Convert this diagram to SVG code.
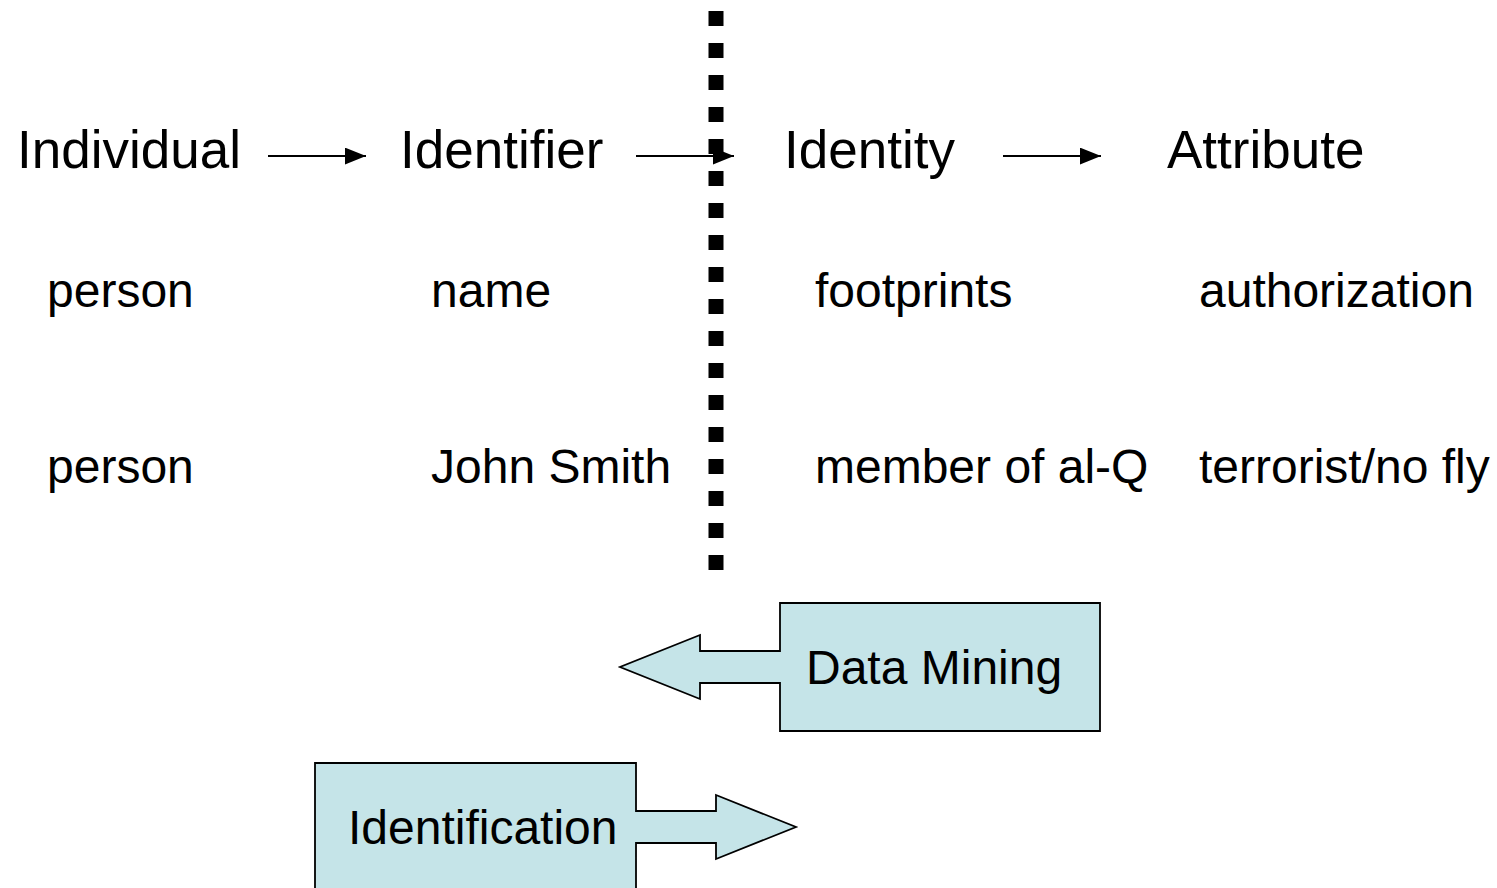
<svg xmlns="http://www.w3.org/2000/svg" width="1497" height="888" viewBox="0 0 1497 888">
<defs>
<style>
.big{font-family:"Liberation Sans",Arial,sans-serif;font-size:53px;fill:#000}
.sm{font-family:"Liberation Sans",Arial,sans-serif;font-size:48px;fill:#000}
.conn{stroke:#000;stroke-width:2;fill:none}
.blk{fill:#C5E4E8;stroke:#000;stroke-width:1.8;stroke-linejoin:miter}
</style>
<marker id="ah" viewBox="0 0 20 16" refX="20" refY="8" markerWidth="21" markerHeight="17" markerUnits="userSpaceOnUse" orient="auto">
<path d="M0,0 L20,8 L0,16 Z" fill="#000"/>
</marker>
</defs>
<rect width="1497" height="888" fill="#fff"/>
<g id="divider">
<line x1="716" y1="11" x2="716" y2="572" stroke="#000" stroke-width="15" stroke-dasharray="15 17"/>
</g>
<g id="connectors">
<line class="conn" x1="268" y1="156" x2="366" y2="156" marker-end="url(#ah)"/>
<line class="conn" x1="636" y1="156" x2="734" y2="156" marker-end="url(#ah)"/>
<line class="conn" x1="1003" y1="156" x2="1101" y2="156" marker-end="url(#ah)"/>
</g>
<g id="individual"><text class="big" x="17" y="168">Individual</text></g>
<g id="identifier"><text class="big" x="400" y="168">Identifier</text></g>
<g id="identity"><text class="big" x="784" y="168">Identity</text></g>
<g id="attribute"><text class="big" x="1167" y="168">Attribute</text></g>
<g id="row1">
<text class="sm" x="47" y="307">person</text>
<text class="sm" x="431" y="307">name</text>
<text class="sm" x="815" y="307">footprints</text>
<text class="sm" x="1199" y="307">authorization</text>
</g>
<g id="row2">
<text class="sm" x="47" y="483">person</text>
<text class="sm" x="431" y="483">John Smith</text>
<text class="sm" x="815" y="483">member of al-Q</text>
<text class="sm" x="1199" y="483">terrorist/no fly</text>
</g>
<g id="data-mining">
<path class="blk" d="M780,603 L1100,603 L1100,731 L780,731 L780,683 L700,683 L700,699 L620,667 L700,635 L700,651 L780,651 Z"/>
<text class="sm" x="806" y="684">Data Mining</text>
</g>
<g id="identification">
<path class="blk" d="M315,763 L636,763 L636,811 L716,811 L716,795 L796,827 L716,859 L716,843 L636,843 L636,895 L315,895 Z"/>
<text class="sm" x="348" y="844">Identification</text>
</g>
</svg>
